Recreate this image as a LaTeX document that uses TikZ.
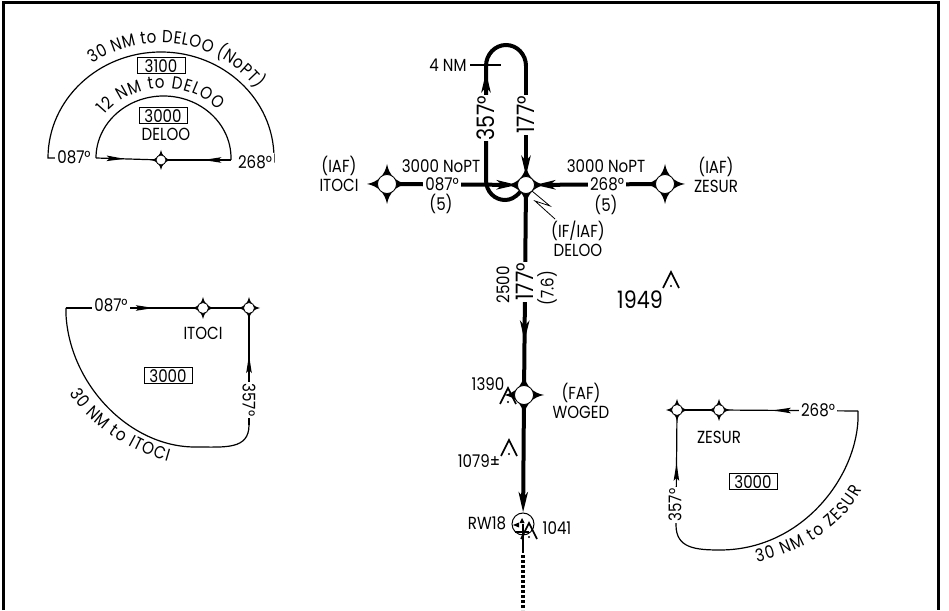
\documentclass[tikz,border=0pt]{standalone}
\usepackage{fontspec}
\setmainfont[FakeStretch=0.86]{Poppins}
\usepackage{tikz}
\usetikzlibrary{arrows.meta,decorations.markings,decorations.text}
\newcommand{\chartfont}{\fontsize{17.5}{19}\selectfont}
\newcommand{\bigfont}{\fontsize{24}{26}\selectfont}

\begin{document}
\begin{tikzpicture}[x=1pt,y=1pt,
            lbl/.style={font=\chartfont, inner sep=1pt, align=center},
            biglbl/.style={font=\bigfont, inner sep=1pt, fill=white},
            onlinelbl/.style={lbl, inner sep=2pt, fill=white},
            minbox/.style={lbl, draw, line width=1pt, minimum width=48pt, minimum height=16pt, inner sep=0pt},
            thinline/.style={line width=1.2pt},
            heavy/.style={line width=4pt},
            fixcirc/.style={shape=circle, draw, line width=0.8pt, fill=white, inner sep=0pt},
            wedge/.tip={Stealth[length=18pt,width=5.5pt,inset=3pt]},
            barbs/.tip={Stealth[length=20pt,width=9pt,inset=5pt]},
            midwedge/.style={postaction={decorate},decoration={markings,mark=at position #1 with {\arrow{wedge}}}},
            midbarbs/.style={postaction={decorate},decoration={markings,mark=at position #1 with {\arrow{barbs}}}},
            curvetext/.style={decorate,decoration={text along path,text={|\chartfont|#1},text align={fit to path}}},
            pics/fixstar/.style 2 args={code={
                \fill (#1,0) .. controls (0.45*#1,0.1*#1) and (0.1*#1,0.45*#1) .. (0,#1)
                    .. controls (-0.1*#1,0.45*#1) and (-0.45*#1,0.1*#1) .. (-#1,0)
                    .. controls (-0.45*#1,-0.1*#1) and (-0.1*#1,-0.45*#1) .. (0,-#1)
                    .. controls (0.1*#1,-0.45*#1) and (0.45*#1,-0.1*#1) .. (#1,0) -- cycle;
                \node[fixcirc, minimum size=2*#2] (-c) at (0,0) {};
            }}]
        \useasboundingbox (0,0) rectangle (949,610);
        \draw[line width=3pt] (3,0) -- (3,607.5) -- (938.5,607.5) -- (938.5,0);

        % fixes
        \pic (itoci) at (387,426) {fixstar={20}{9.5}};
        \pic (zesur) at (665,426) {fixstar={20}{9.5}};
        \pic (deloo) at (526,425) {fixstar={19}{8.5}};
        \pic (woged) at (524,215) {fixstar={20}{9.5}};
        \pic (holdfix) at (161,450) {fixstar={10}{5}};
        \pic (itocifix) at (203,302) {fixstar={11}{5.5}};
        \pic (itocicnr) at (249,302) {fixstar={11}{5.5}};
        \pic (zesurfix) at (719,200) {fixstar={11}{5.5}};
        \pic (zesurcnr) at (677,200) {fixstar={11}{5.5}};
        \node[shape=circle, draw, line width=1pt, minimum size=22pt, inner sep=0pt] (apt) at (523,86) {};

        % procedure track
        \draw[heavy,-{barbs}] (itoci-c) -- (deloo-c);
        \draw[heavy,-{barbs}] (zesur-c) -- (deloo-c);
        \draw[heavy] (deloo-c) .. controls (515,412) and (510,410) .. (505,410)
            .. controls (495,410) and (486,418) .. (486,430) -- (486,544)
            arc[start angle=180,end angle=0,x radius=20pt,y radius=21pt] -- (526,544) coordinate (legtop);
        \draw[heavy,midbarbs=0.77] (deloo-c) -- (woged-c);
        \draw[heavy,-{barbs}] (woged-c) -- (apt);
        \draw[line width=2.5pt] (apt.center) -- (523,57) coordinate (rwyend);
        \draw[line width=3.5pt,dash pattern=on 2.5pt off 2.5pt] (523,55) coordinate (extstart) -- (523,0) coordinate (extend);
        \draw[heavy,-{barbs}] (legtop) -- (deloo-c);
        \draw[heavy,-{barbs}] (486,510) -- (486,538);
        \draw[thinline] (470,545) -- (501,545);
        \draw[line width=0.8pt] (deloo-c.-45) -- (550,404) -- (535,409) -- (555,391);

        % airport symbol
        \draw[line width=1.6pt] (515,78) -- (529,78);
        \fill (513,85) -- (519,82.5) -- (519,87.5) -- cycle;
        \fill (522,92) -- (519.5,87) -- (524.5,87) -- cycle;

        % obstacles
        \foreach \ox/\oy in {671/338, 509/170, 508/222, 529/87}{
            \draw[line width=1.6pt] ({\ox-8},{\oy-16}) -- (\ox,\oy) -- ({\ox+8},{\oy-16});
            \fill (\ox,{\oy-14}) circle (1.2);
        }

        % labels on the track
        \node[biglbl,rotate=90] (brgout) at (486,492) {357°};
        \node[biglbl,rotate=90] (brgin) at (526,495) {177°};
        \node[biglbl,rotate=90] (brgfinal) at (525,328) {177°};
        \node[onlinelbl] (brgitoci) at (442,426) {087°};
        \node[onlinelbl] (brgzesur) at (607,426) {268°};
        \node[lbl] (altitoci) at (441,444) {3000 NoPT};
        \node[lbl] (altzesur) at (606,444) {3000 NoPT};
        \node[lbl] (distitoci) at (441,406) {(5)};
        \node[lbl] (distzesur) at (606,405) {(5)};
        \node[lbl] (legdist) at (448,545) {4 NM};
        \node[lbl] (iafitoci) at (339,436) {(IAF)\\ITOCI};
        \node[lbl] (iafzesur) at (716,435) {(IAF)\\ZESUR};
        \node[lbl] (ifdeloo) at (578,371) {(IF/IAF)\\DELOO};
        \node[lbl,rotate=90] (altfinal) at (503,325) {2500};
        \node[lbl,rotate=90] (distfinal) at (547,322) {(7.6)};
        \node[font=\bigfont, inner sep=0pt] (elev1949) at (640,310) {1949};
        \node[lbl] (fafwoged) at (581,209) {(FAF)\\WOGED};
        \node[lbl] (elev1390) at (488,226) {1390};
        \node[lbl] (elev1079) at (479,149) {1079±};
        \node[lbl] (rwlabel) at (487,87) {RW18};
        \node[lbl] (elev1041) at (557,82) {1041};

        % hold-in-lieu box, top left
        \draw[thinline] (55,452) -- (48,452) arc[start angle=180,end angle=0,x radius=113pt,y radius=106pt]
            -- (274,448) -- (269,448);
        \coordinate (innerl) at (96,452);
        \coordinate (innerr) at (231,450);
        \draw[thinline] (innerl) arc[start angle=180,end angle=0,x radius=67.5pt,y radius=62pt] -- (innerr);
        \draw[thinline,midwedge=0.48] (innerl) -- (holdfix-c);
        \draw[thinline,midwedge=0.43] (innerr) -- (holdfix-c);
        \node[onlinelbl] (outbrgl) at (74,453) {087°};
        \node[onlinelbl] (outbrgr) at (255,448) {268°};
        \node[minbox] (msa3100) at (161,544) {3100};
        \node[minbox] (msa3000) at (163,494) {3000};
        \node[lbl] (holdname) at (166,476) {DELOO};
        \path[curvetext={30 NM to DELOO (NoPT)}] (161,452) ++(125:120pt and 115pt)
            arc[start angle=125,end angle=37,x radius=120pt,y radius=115pt];
        \path[curvetext={12 NM to DELOO}] (163.5,452) ++(142:75pt and 70pt)
            arc[start angle=142,end angle=43,x radius=75pt,y radius=70pt];

        % sector box, left
        \coordinate (leftcnr) at (66,302);
        \coordinate (leftend) at (249,185);
        \draw[thinline,midwedge=0.67] (leftcnr) -- (itocifix-c);
        \draw[thinline] (itocifix-c) -- (itocicnr-c);
        \draw[thinline,midwedge=0.63] (leftend) -- (itocicnr-c);
        \draw[thinline] (leftcnr) -- (66,295) .. controls (70,225) and (130,163) .. (195,163)
            .. controls (225,163) and (249,160) .. (leftend);
        \node[onlinelbl] (leftbrg) at (111,305) {087°};
        \node[onlinelbl,rotate=-90] (leftcrs) at (249,210) {357°};
        \node[lbl] (leftname) at (203,277) {ITOCI};
        \node[minbox] (leftmsa) at (168,234) {3000};
        \path[curvetext={30 NM to ITOCI}] (70,217) .. controls (85,190) and (125,160) .. (168,148);

        % sector box, right
        \coordinate (rightcnr) at (858,199);
        \coordinate (rightend) at (676,85);
        \draw[thinline,midwedge=0.64] (rightcnr) -- (zesurfix-c);
        \draw[thinline] (zesurfix-c) -- (zesurcnr-c);
        \draw[thinline,midwedge=0.57] (rightend) -- (zesurcnr-c);
        \draw[thinline] (rightcnr) -- (858,190) .. controls (855,130) and (800,60) .. (720,60)
            .. controls (695,60) and (676,62) .. (rightend);
        \node[onlinelbl] (rightbrg) at (818,200) {268°};
        \node[onlinelbl,rotate=90] (rightcrs) at (675,105) {357°};
        \node[lbl] (rightname) at (719,173) {ZESUR};
        \node[minbox] (rightmsa) at (753,128) {3000};
        \path[curvetext={30 NM to ZESUR}] (757,48) .. controls (800,58) and (840,80) .. (862,120);
    \end{tikzpicture}
\end{document}
